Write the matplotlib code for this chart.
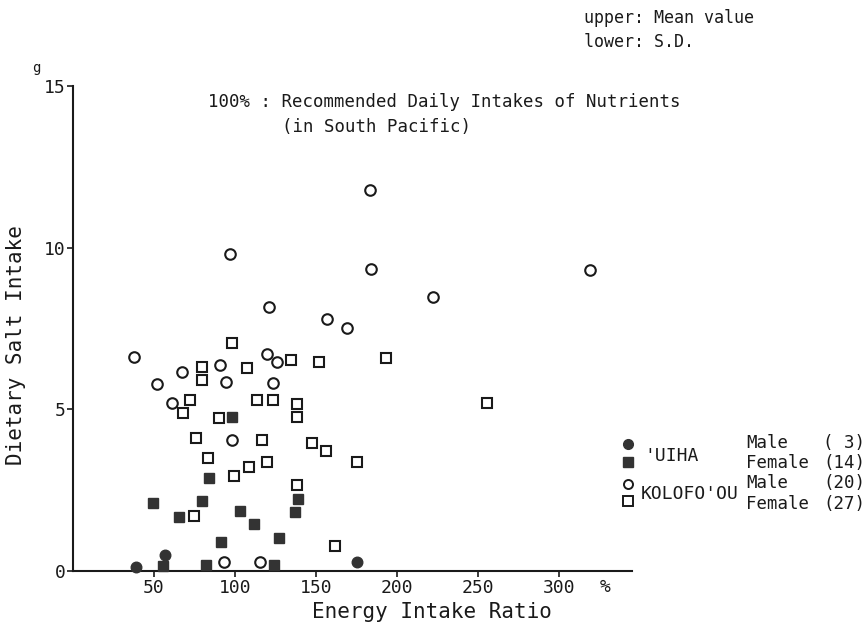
import matplotlib
matplotlib.use("Agg")
import matplotlib.pyplot as plt

# 'UIHA Male (filled circles)
uiha_m_x = [38.7, 56.8, 175.5]
uiha_m_y = [0.13, 0.51, 0.29]

# 'UIHA Female (filled squares)
uiha_f_x = [98.3, 84.0, 139.0, 49.6, 79.4, 103.1, 137.0, 65.4, 111.7, 91.5, 127.2, 55.6, 82.1, 123.9]
uiha_f_y = [4.75, 2.88, 2.22, 2.10, 2.18, 1.85, 1.83, 1.67, 1.45, 0.90, 1.02, 0.15, 0.18, 0.18]

# KOLOFO'OU Male (open circles)
kol_m_x = [37.7, 119.6, 125.7, 67.1, 90.9, 52.0, 94.6, 123.3, 60.9, 98.1,
           93.4, 115.4, 183.1, 184.1, 318.7, 222.0, 156.6, 168.9, 96.9, 121.0]
kol_m_y = [6.62, 6.72, 6.48, 6.14, 6.36, 5.79, 5.86, 5.81, 5.21, 4.05,
           0.29, 0.27, 11.8, 9.35, 9.31, 8.49, 7.80, 7.52, 9.82, 8.16]

# KOLOFO'OU Female (open squares)
kol_f_x = [98.0, 134.4, 151.9, 79.4, 107.2, 79.4, 72.0, 113.4, 123.6, 138.3,
           67.7, 89.9, 138.3, 75.9, 116.9, 147.7, 156.0, 83.1, 108.8, 119.9,
           99.6, 137.9, 74.9, 161.7, 193.4, 175.5, 255.3]
kol_f_y = [7.04, 6.54, 6.48, 6.32, 6.27, 5.91, 5.28, 5.29, 5.29, 5.16,
           4.88, 4.74, 4.76, 4.12, 4.04, 3.95, 3.72, 3.50, 3.21, 3.38,
           2.95, 2.65, 1.69, 0.78, 6.59, 3.38, 5.21]

x_ticks = [50, 100, 150, 200, 250, 300]
y_ticks = [0, 5, 10, 15]

FONT = "DejaVu Sans Mono"
INK = "#1a1a1a"
FILL = "#333333"

fig = plt.figure(figsize=(8.67, 6.29), dpi=100)
ax = fig.add_axes([0.0842, 0.0922, 0.645, 0.771])

ax.plot(uiha_m_x, uiha_m_y, 'o', ms=7.6, mfc=FILL, mec=FILL, mew=1.0, clip_on=False, zorder=3)
ax.plot(uiha_f_x, uiha_f_y, 's', ms=7.2, mfc=FILL, mec=FILL, mew=1.0, clip_on=False, zorder=3)
ax.plot(kol_m_x, kol_m_y, 'o', ms=7.6, mfc='white', mec=INK, mew=1.5, clip_on=False, zorder=3)
ax.plot(kol_f_x, kol_f_y, 's', ms=7.0, mfc='white', mec=INK, mew=1.5, clip_on=False, zorder=3)

ax.set_xlim(0, 345)
ax.set_ylim(0, 15)
for s in ['top', 'right']:
    ax.spines[s].set_visible(False)
for s in ['left', 'bottom']:
    ax.spines[s].set_linewidth(1.5)
    ax.spines[s].set_color(INK)

ax.set_xticks(x_ticks)
ax.set_yticks(y_ticks)
ax.set_xticklabels([str(v) for v in x_ticks], family=FONT, fontsize=13, color=INK)
ax.set_yticklabels([str(v) for v in y_ticks], family=FONT, fontsize=13, color=INK)
ax.tick_params(axis='both', direction='out', length=4, width=1.2, color=INK)
ax.tick_params(axis='x', pad=2)
ax.tick_params(axis='y', pad=1)

# axis titles placed as in the reference
fig.text(432 / 867, 1 - 612 / 629, "Energy Intake Ratio", family=FONT, fontsize=15, color=INK,
         ha='center', va='center')
fig.text(16 / 867, 1 - 345 / 629, "Dietary Salt Intake", family=FONT, fontsize=15, color=INK,
         ha='center', va='center', rotation=90)

# % unit on x axis and g unit on y axis
fig.text(605 / 867, 1 - 587 / 629, "%", family=FONT, fontsize=13, color=INK, ha='center', va='center')
fig.text(36 / 867, 1 - 68 / 629, "g", family=FONT, fontsize=10, color=INK, ha='center', va='center')

# annotation
fig.text(208 / 867, 1 - 102 / 629, "100% : Recommended Daily Intakes of Nutrients",
         family=FONT, fontsize=12.5, color=INK, ha='left', va='center')
fig.text(282 / 867, 1 - 127 / 629, "(in South Pacific)",
         family=FONT, fontsize=12.5, color=INK, ha='left', va='center')

fig.text(584 / 867, 1 - 18 / 629, "upper: Mean value", family=FONT, fontsize=12, color=INK,
         ha='left', va='center')
fig.text(584 / 867, 1 - 42 / 629, "lower: S.D.", family=FONT, fontsize=12, color=INK,
         ha='left', va='center')

# legend (manual)
lx = 628 / 867
fig.lines.append(plt.Line2D([lx], [1 - 444 / 629], marker='o', ms=7, mfc=FILL, mec=FILL,
                            transform=fig.transFigure, linestyle='none'))
fig.lines.append(plt.Line2D([lx], [1 - 462 / 629], marker='s', ms=6.5, mfc=FILL, mec=FILL,
                            transform=fig.transFigure, linestyle='none'))
fig.lines.append(plt.Line2D([lx], [1 - 484 / 629], marker='o', ms=6.5, mfc='white', mec=INK, mew=1.4,
                            transform=fig.transFigure, linestyle='none'))
fig.lines.append(plt.Line2D([lx], [1 - 501 / 629], marker='s', ms=6.5, mfc='white', mec=INK, mew=1.4,
                            transform=fig.transFigure, linestyle='none'))

fig.text(644 / 867, 1 - 456 / 629, "'UIHA", family=FONT, fontsize=13, color=INK, ha='left', va='center')
fig.text(641 / 867, 1 - 494 / 629, "KOLOFO'OU", family=FONT, fontsize=13, color=INK, ha='left', va='center')

rows = [("Male", "( 3)", 443), ("Female", "(14)", 463), ("Male", "(20)", 483), ("Female", "(27)", 504)]
for lab, n, py in rows:
    fig.text(746 / 867, 1 - py / 629, lab, family=FONT, fontsize=12.5, color=INK, ha='left', va='center')
    fig.text(865 / 867, 1 - py / 629, n, family=FONT, fontsize=12.5, color=INK, ha='right', va='center')

fig.savefig("out.png", dpi=100, facecolor='white')
